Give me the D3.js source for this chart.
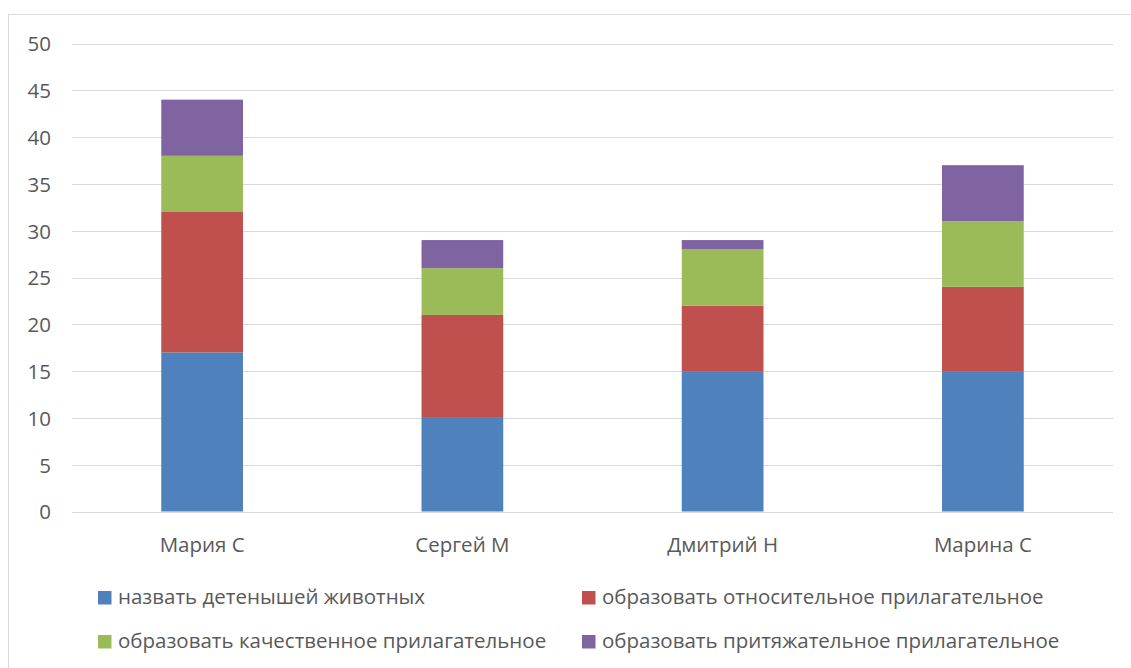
<!DOCTYPE html>
<html><head><meta charset="utf-8">
<script src="https://cdn.jsdelivr.net/npm/d3@7"></script>
<style>body{margin:0;background:#fff;}svg text{font-family:"Open Sans",sans-serif;fill:#595959;}</style>
</head><body><svg id="c" width="1131" height="668"></svg>
<script>
const categories = ["Мария С", "Сергей М", "Дмитрий Н", "Марина С"];
const seriesNames = ["назвать детенышей животных", "образовать относительное прилагательное", "образовать качественное прилагательное", "образовать притяжательное прилагательное"];
const seriesColors = ["#4f81bd", "#c0504d", "#9bbb59", "#8064a2"];
const s1 = [17, 10, 15, 15];
const s2 = [15, 11, 7, 9];
const s3 = [6, 5, 6, 7];
const s4 = [6, 3, 1, 6];
const yTicks = [0, 5, 10, 15, 20, 25, 30, 35, 40, 45, 50];

const FS = "20.5px";
const svg = d3.select("#c");
svg.append("rect").attr("x", 8.5).attr("y", 14.5).attr("width", 1140).attr("height", 700)
  .attr("fill", "#fff").attr("stroke", "#d9d9d9").attr("stroke-width", 1);

const x = d3.scaleBand().domain(categories).range([72, 1113]).paddingInner(0.686).paddingOuter(0.343);
const y = d3.scaleLinear().domain([0, 50]).range([511.5, 43.5]);

svg.selectAll("line.grid").data(yTicks).enter().append("line")
  .attr("x1", 72).attr("x2", 1113).attr("y1", d => Math.round(y(d)) + 0.5).attr("y2", d => Math.round(y(d)) + 0.5)
  .attr("stroke", "#d9d9d9").attr("stroke-width", 1);

const yAxis = d3.axisLeft(y).tickValues(yTicks).tickSize(0).tickPadding(0);
const ya = svg.append("g").attr("transform", "translate(51,0)").call(yAxis);
ya.select(".domain").remove();
ya.selectAll("text").style("font-size", FS).style("font-family", "'Open Sans',sans-serif").attr("fill", "#595959").attr("dy", "0.36em");

const data = categories.map((c, i) => ({cat: c, v: [s1[i], s2[i], s3[i], s4[i]]}));
const stack = d3.stack().keys([0, 1, 2, 3]).value((d, k) => d.v[k]);
const layers = stack(data);
svg.selectAll("g.layer").data(layers).enter().append("g").attr("fill", (d, i) => seriesColors[i])
  .selectAll("rect").data(d => d).enter().append("rect")
  .attr("x", d => x(d.data.cat)).attr("width", x.bandwidth())
  .attr("y", d => y(d[1])).attr("height", d => y(d[0]) - y(d[1]));

const xAxis = d3.axisBottom(x).tickSize(0).tickPadding(0);
const xa = svg.append("g").attr("transform", "translate(0,552)").call(xAxis);
xa.select(".domain").remove();
xa.selectAll("text").style("font-size", FS).style("font-family", "'Open Sans',sans-serif").attr("fill", "#595959").attr("dy", "0").attr("y", 0);

const legPos = [[98, 604], [582, 604], [98, 648], [582, 648]];
seriesNames.forEach((n, i) => {
  const lg = svg.append("g").attr("transform", `translate(${legPos[i][0]},${legPos[i][1]})`);
  lg.append("rect").attr("x", 0).attr("y", -13).attr("width", 13.5).attr("height", 13.5).attr("fill", seriesColors[i]);
  lg.append("text").attr("x", 20).attr("y", 0).style("font-size", FS).text(n);
});
</script></body></html>
